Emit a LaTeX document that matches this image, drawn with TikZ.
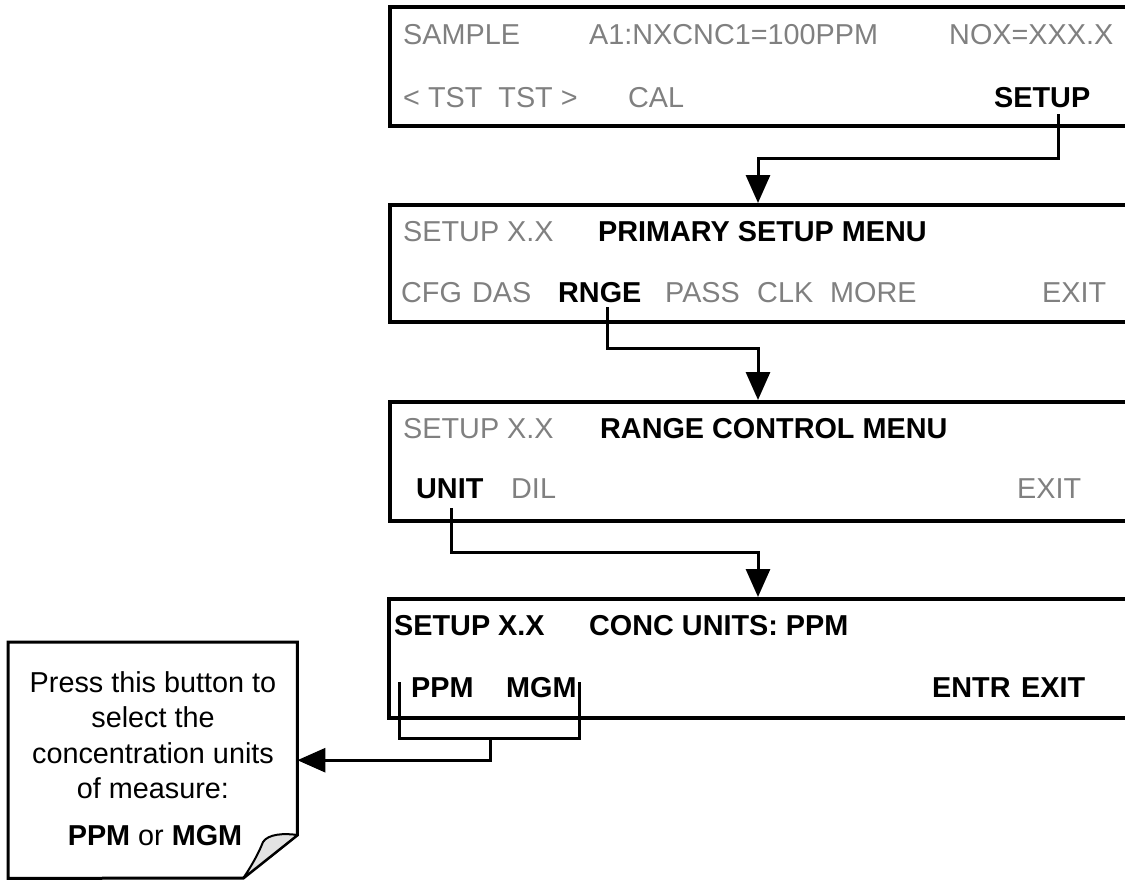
\documentclass[tikz,border=0pt]{standalone}
\usepackage{fontspec}
\setmainfont{Liberation Sans}
\usetikzlibrary{arrows.meta}
\definecolor{txtgray}{HTML}{808080}
\definecolor{flapgray}{HTML}{E3E3E3}
\begin{document}
\begin{tikzpicture}[x=1pt,y=-1pt,
  lbl/.style={anchor=base west, inner sep=0pt, font=\fontsize{28.8}{34}\selectfont},
  dim/.style={lbl, text=txtgray},
  key/.style={lbl, font=\fontsize{28.8}{34}\selectfont\bfseries},
  notetxt/.style={anchor=base, inner sep=0pt, font=\fontsize{28.8}{34}\selectfont},
  screen/.style={draw, line width=3.5pt, anchor=north west, minimum width=760pt, inner sep=0pt},
  conn/.style={line width=3pt},
  arr/.style={conn, -{Triangle[length=28pt,width=24pt]}},
  notefr/.style={line width=3pt, line join=miter}
]
\useasboundingbox (0,0) rectangle (1125,881);
\clip (0,0) rectangle (1125,881);

% screens
\node[screen, minimum height=119pt] (b1) at (388,5) {};
\node[screen, minimum height=117pt] (b2) at (388,203) {};
\node[screen, minimum height=119pt] (b3) at (388,400) {};
\node[screen, minimum height=119pt] (b4) at (387,597) {};

% screen 1
\node[dim] (t1a) at (403,44) {SAMPLE};
\node[dim] (t1b) at (589,44) {A1:NXCNC1=100PPM};
\node[dim] (t1c) at (949,44) {NOX=XXX.X};
\node[dim] (t1d) at (403,107) {< TST\ \ TST >};
\node[dim] (t1e) at (628,107) {CAL};
\node[key] (k1) at (994,107) {SETUP};

% screen 2
\node[dim] (t2a) at (403,241) {SETUP X.X};
\node[key] (t2b) at (598,241) {PRIMARY SETUP MENU};
\node[dim] (t2c) at (401,302) {CFG};
\node[dim] (t2d) at (472,302) {DAS};
\node[key] (k2) at (558,302) {RNGE};
\node[dim] (t2e) at (665,302) {PASS};
\node[dim] (t2f) at (757,302) {CLK};
\node[dim] (t2g) at (830,302) {MORE};
\node[dim] (t2h) at (1042,302) {EXIT};

% screen 3
\node[dim] (t3a) at (403,438) {SETUP X.X};
\node[key] (t3b) at (600,438) {RANGE CONTROL MENU};
\node[key] (k3) at (416,498) {UNIT};
\node[dim] (t3c) at (511,498) {DIL};
\node[dim] (t3d) at (1017,498) {EXIT};

% screen 4
\node[key] (t4a) at (394,635) {SETUP X.X};
\node[key] (t4b) at (589,635) {CONC UNITS: PPM};
\node[key] (k4a) at (411,697) {PPM};
\node[key] (k4b) at (506,697) {MGM};
\node[key] (t4c) at (932,697) {ENTR};
\node[key] (t4d) at (1021,697) {EXIT};

% note
\node[anchor=north west, minimum width=289pt, minimum height=236pt, inner sep=0pt] (note) at (8,642) {};
\draw[notefr] (note.north west) -- (note.north east) -- ++(0,193) coordinate (f1)
  -- ++(-54,43) coordinate (f2) -- (note.south west) -- cycle;
\filldraw[fill=flapgray, line width=2pt, line join=round] (f1) .. controls (284,833) and (268,834) .. (263,842)
  .. controls (258,855) and (250,868) .. (f2) -- cycle;
\node[notetxt] (n1) at (153,692) {Press this button to};
\node[notetxt] (n2) at (153,727) {select the};
\node[notetxt] (n3) at (153,763) {concentration units};
\node[notetxt] (n4) at (153,798) {of measure:};
\node[notetxt] (n5) at (155,845) {\textbf{PPM} or \textbf{MGM}};

% connectors
\coordinate (s1) at (1058,114);
\coordinate (j1) at (758,158);
\draw[arr] (s1) |- (j1) -- (j1 |- b2.north);

\coordinate (s2) at (607,307);
\coordinate (j2) at (758,348);
\draw[arr] (s2) |- (j2) -- (j2 |- b3.north);

\coordinate (s3) at (451,508);
\coordinate (j3) at (758,552);
\draw[arr] (s3) |- (j3) -- (j3 |- b4.north);

\coordinate (bl) at (399,682);
\coordinate (br) at (579,682);
\draw[conn] (bl) -- ++(0,56) -| (br);
\coordinate (st) at (490,738);
\draw[arr] (st) |- (note.east);
\end{tikzpicture}
\end{document}
